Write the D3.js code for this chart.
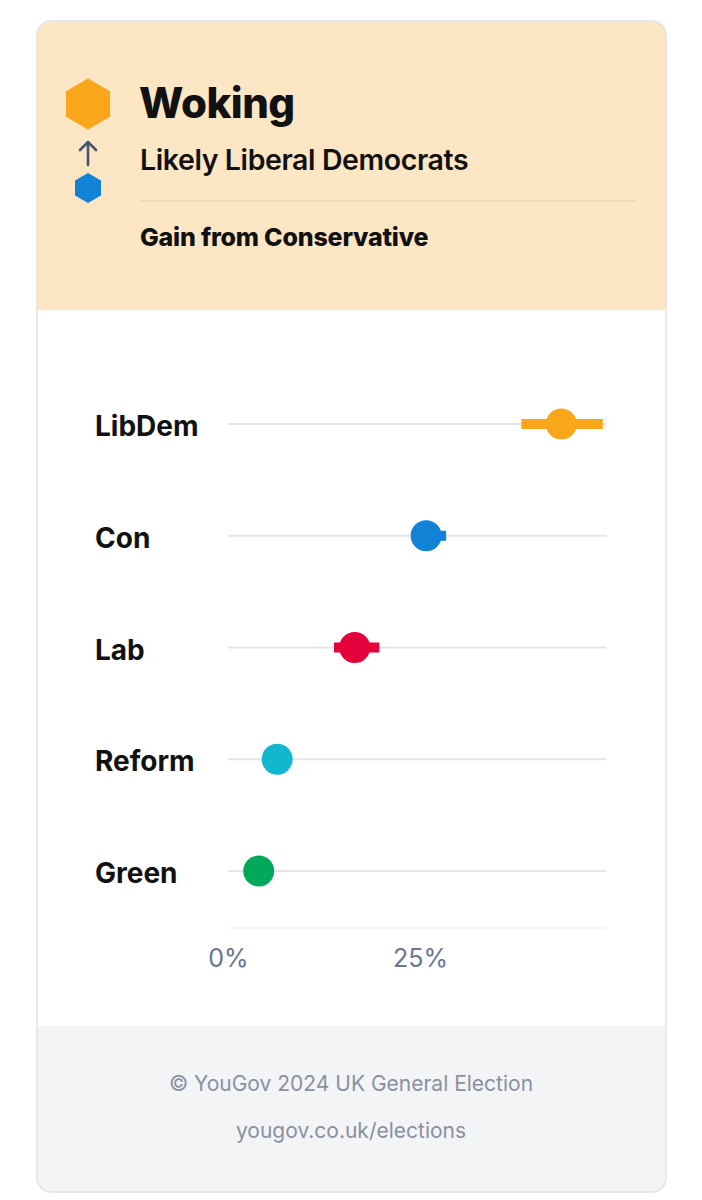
<!DOCTYPE html>
<html><head><meta charset="utf-8">
<script src="https://cdn.jsdelivr.net/npm/d3@7"></script>
<style>body{margin:0;background:#fff;}svg{display:block;font-family:Inter,"Noto Sans",sans-serif;}</style>
</head><body>
<svg id="c" width="702" height="1200"></svg>
<script>
const parties = ["LibDem","Con","Lab","Reform","Green"];
const values = [43.4, 25.8, 16.5, 6.4, 4.0];
const lower = [38.2, 24.5, 13.8, 6.4, 4.0];
const upper = [48.8, 28.4, 19.7, 6.4, 4.0];
const colors = ["#FAA61A","#1282D6","#E4003B","#12B6CF","#02A95B"];
const tickValues = [0, 25];
const tickLabels = ["0%","25%"];
const title = "Woking";
const subtitle = "Likely Liberal Democrats";
const note = "Gain from Conservative";
const footer = ["© YouGov 2024 UK General Election","yougov.co.uk/elections"];

const svg = d3.select("#c");
const card = {x:37,y:21,w:629,h:1171,r:14};
const defs = svg.append("defs");
defs.append("clipPath").attr("id","cardclip").append("rect")
  .attr("x",card.x).attr("y",card.y).attr("width",card.w).attr("height",card.h).attr("rx",card.r);
const g = svg.append("g").attr("clip-path","url(#cardclip)");
g.append("rect").attr("x",card.x).attr("y",card.y).attr("width",card.w).attr("height",card.h).attr("fill","#fff");
g.append("rect").attr("x",card.x).attr("y",card.y).attr("width",card.w).attr("height",289).attr("fill","#FDE6C4");
g.append("rect").attr("x",card.x).attr("y",1026).attr("width",card.w).attr("height",166).attr("fill","#F3F4F6");
svg.append("rect").attr("x",card.x).attr("y",card.y).attr("width",card.w).attr("height",card.h).attr("rx",card.r)
  .attr("fill","none").attr("stroke","#E3E4E8").attr("stroke-width",1.5);

// hexagons
function hex(cx,cy,h){const r=h/2;return d3.range(6).map(i=>{const a=Math.PI/3*i-Math.PI/2;return [cx+r*Math.cos(a),cy+r*Math.sin(a)];});}
svg.append("polygon").attr("points",hex(88,104,51).join(" ")).attr("fill",colors[0]);
svg.append("polygon").attr("points",hex(88,188,30).join(" ")).attr("fill",colors[1]);
// arrow
svg.append("path").attr("d","M88,165 L88,142 M80,150 L88,142 L96,150").attr("stroke","#4A5170").attr("stroke-width",2.6).attr("fill","none").attr("stroke-linecap","round").attr("stroke-linejoin","round");

svg.append("text").attr("x",139).attr("y",118).text(title).attr("font-size",42).attr("font-weight",800).attr("fill","#111").attr("letter-spacing",-0.5);
svg.append("text").attr("x",140).attr("y",170).text(subtitle).attr("font-size",28.5).attr("font-weight",600).attr("fill","#111").attr("letter-spacing",-0.4);
svg.append("line").attr("x1",140).attr("x2",636).attr("y1",201).attr("y2",201).attr("stroke","#E2CFB3").attr("stroke-width",1.2);
svg.append("text").attr("x",140).attr("y",246).text(note).attr("font-size",25).attr("font-weight",800).attr("fill","#111").attr("letter-spacing",-0.2);

// chart
const x = d3.scaleLinear().domain([0,50]).range([228,612]);
const y = d3.scalePoint().domain(parties).range([424,871]);

svg.append("line").attr("x1",x(0)).attr("x2",x(49.3)).attr("y1",928).attr("y2",928).attr("stroke","#F6F6F8").attr("stroke-width",2);

const rows = svg.append("g").selectAll("g").data(parties).join("g");
rows.append("line").attr("x1",x(0)).attr("x2",x(49.3)).attr("y1",d=>y(d)).attr("y2",d=>y(d))
  .attr("stroke","#E5E5E7").attr("stroke-width",2);
rows.append("text").attr("x",95).attr("y",d=>y(d)+12).text(d=>d).attr("font-size",28).attr("font-weight",700).attr("fill","#111");
rows.append("line").attr("x1",(d,i)=>x(lower[i])).attr("x2",(d,i)=>x(upper[i])).attr("y1",d=>y(d)).attr("y2",d=>y(d))
  .attr("stroke",(d,i)=>colors[i]).attr("stroke-width",10);
rows.append("circle").attr("cx",(d,i)=>x(values[i])).attr("cy",d=>y(d)).attr("r",15.5).attr("fill",(d,i)=>colors[i]);

const axis = d3.axisBottom(x).tickValues(tickValues).tickFormat((d,i)=>tickLabels[i]).tickSize(0).tickPadding(0);
const ax = svg.append("g").attr("transform","translate(0,949)").call(axis);
ax.select(".domain").remove();
ax.selectAll("text").attr("font-size",25).attr("fill","#6B7394").attr("font-family","Inter,'Noto Sans',sans-serif").attr("dy","0.71em").attr("y",0);

svg.append("g").selectAll("text").data(footer).join("text")
  .attr("x",351).attr("y",(d,i)=>1091+i*47).attr("text-anchor","middle").text(d=>d)
  .attr("font-size",21).attr("fill","#8A90A2");
</script>
</body></html>
